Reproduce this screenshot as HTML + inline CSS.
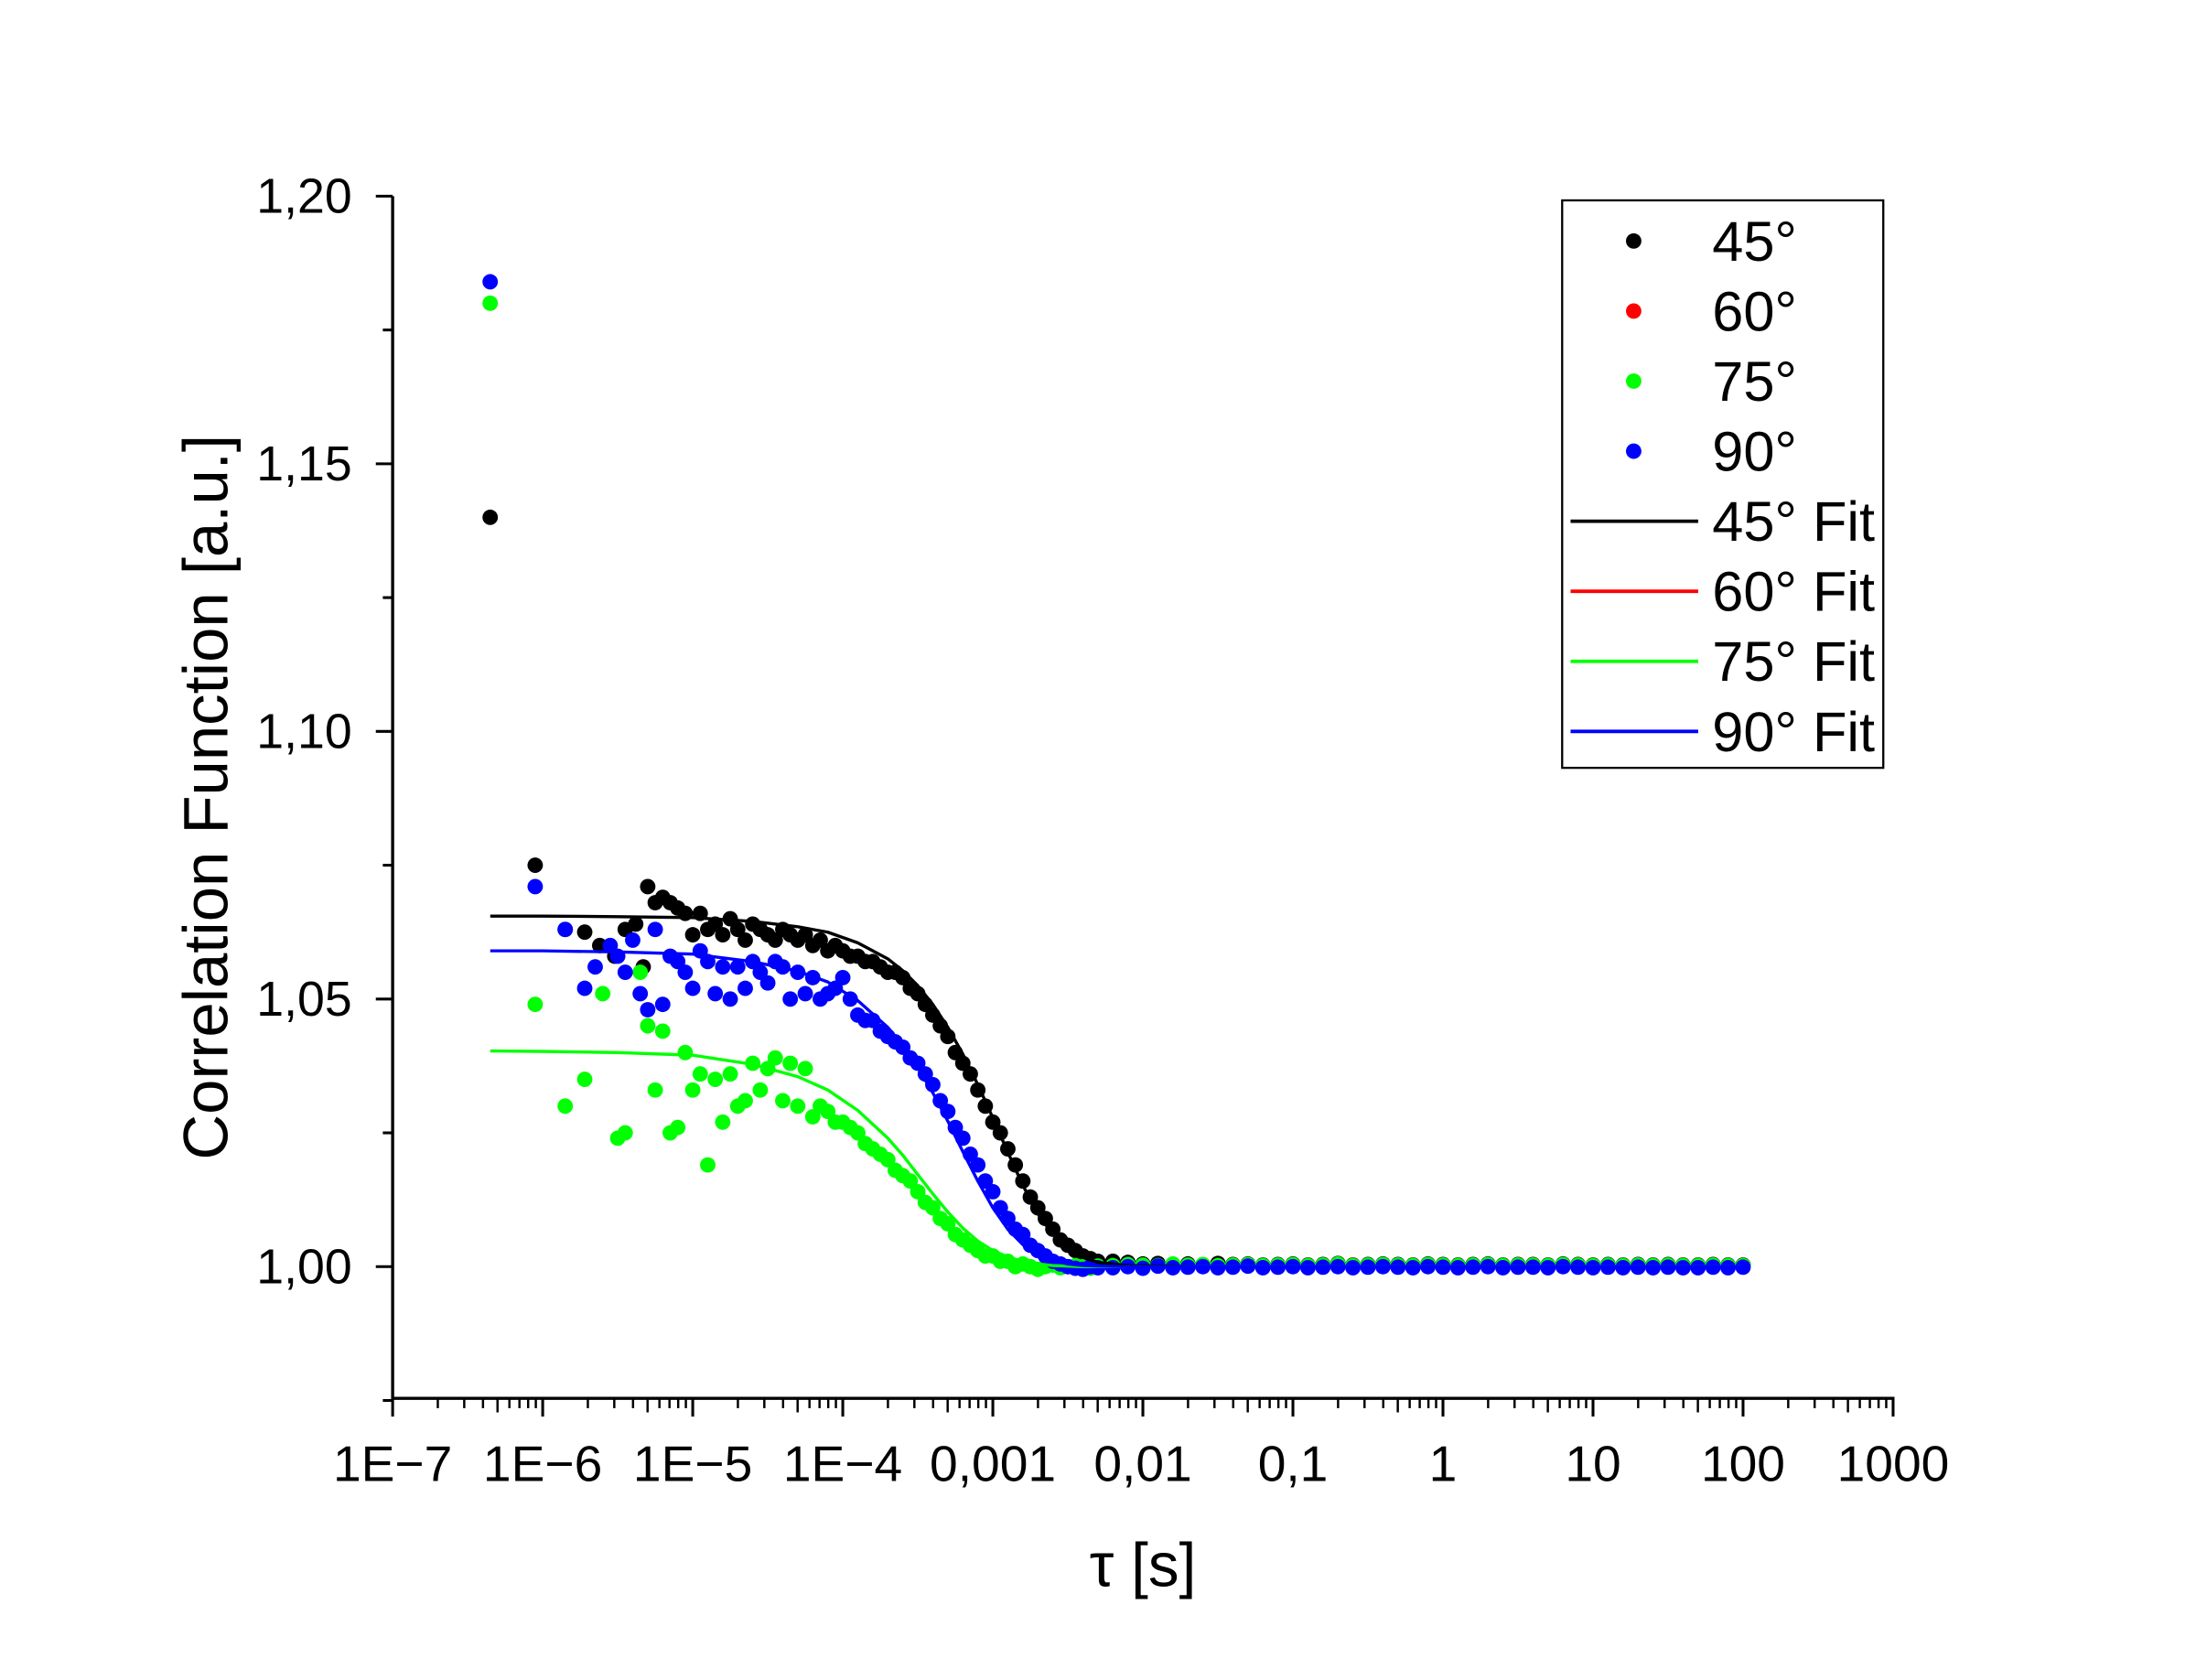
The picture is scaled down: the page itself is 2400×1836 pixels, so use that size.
<!DOCTYPE html>
<html><head><meta charset="utf-8"><style>
html,body{margin:0;padding:0;background:#fff}
svg{display:block}
text{font-family:"Liberation Sans",sans-serif;fill:#000}
</style></head><body>
<svg id="chart" width="2400" height="1836" viewBox="0 0 1566 1199" preserveAspectRatio="none" xmlns="http://www.w3.org/2000/svg">
<g id="axes"></g>
<g id="marks"></g>
<g id="legend">
<rect x="1114" y="143" width="229" height="405" fill="#fff" stroke="#000" stroke-width="1.5"/>
</g>
</svg>
<script>
// ---- data ----
const xTickLabels=["1E\u22127","1E\u22126","1E\u22125","1E\u22124","0,001","0,01","0,1","1","10","100","1000"];
const yTickValues=[1.00,1.05,1.10,1.15,1.20];
const yTickLabels=["1,00","1,05","1,10","1,15","1,20"];
const tailLog=[-2.2,-2.1,-2.0,-1.9,-1.8,-1.7,-1.6,-1.5,-1.4,-1.3,-1.2,-1.1,-1.0,-0.9,-0.8,-0.7,-0.6,-0.5,-0.4,-0.3,-0.2,-0.1,0.0,0.1,0.2,0.3,0.4,0.5,0.6,0.7,0.8,0.9,1.0,1.1,1.2,1.3,1.4,1.5,1.6,1.7,1.8,1.9,2.0];
const logT45=[-6.35,-6.05,-5.85,-5.72,-5.62,-5.52,-5.45,-5.38,-5.33,-5.3,-5.25,-5.2,-5.15,-5.1,-5.05,-5.0,-4.95,-4.9,-4.85,-4.8,-4.75,-4.7,-4.65,-4.6,-4.55,-4.5,-4.45,-4.4,-4.35,-4.3,-4.25,-4.2,-4.15,-4.1,-4.05,-4.0,-3.95,-3.9,-3.85,-3.8,-3.75,-3.7,-3.65,-3.6,-3.55,-3.5,-3.45,-3.4,-3.35,-3.3,-3.25,-3.2,-3.15,-3.1,-3.05,-3.0,-2.95,-2.9,-2.85,-2.8,-2.75,-2.7,-2.65,-2.6,-2.55,-2.5,-2.45,-2.4,-2.35,-2.3];
const val45=[1.140,1.075,1.063,1.0625,1.060,1.058,1.063,1.064,1.056,1.071,1.068,1.069,1.068,1.067,1.066,1.062,1.066,1.063,1.064,1.062,1.065,1.063,1.061,1.064,1.063,1.062,1.061,1.063,1.062,1.061,1.062,1.060,1.061,1.059,1.060,1.059,1.058,1.058,1.057,1.057,1.056,1.055,1.055,1.054,1.052,1.051,1.049,1.047,1.045,1.043,1.040,1.038,1.036,1.033,1.030,1.027,1.025,1.022,1.019,1.016,1.013,1.011,1.009,1.007,1.005,1.004,1.003,1.002,1.0015,1.001];
const tail45=[1.001,1.0008,1.0005,1.0006,1.0004,1.0005,1.0003,1.0006,1.0004,1.0005,1.0003,1.0004,1.0005,1.0003,1.0004,1.0006,1.0003,1.0004,1.0005,1.0004,1.0003,1.0005,1.0004,1.0003,1.0004,1.0005,1.0003,1.0004,1.0004,1.0003,1.0005,1.0004,1.0003,1.0004,1.0003,1.0004,1.0003,1.0004,1.0003,1.0003,1.0004,1.0003,1.0003];
const logT75=[-6.35,-6.05,-5.85,-5.72,-5.6,-5.5,-5.45,-5.35,-5.3,-5.25,-5.2,-5.15,-5.1,-5.05,-5.0,-4.95,-4.9,-4.85,-4.8,-4.75,-4.7,-4.65,-4.6,-4.55,-4.5,-4.45,-4.4,-4.35,-4.3,-4.25,-4.2,-4.15,-4.1,-4.05,-4.0,-3.95,-3.9,-3.85,-3.8,-3.75,-3.7,-3.65,-3.6,-3.55,-3.5,-3.45,-3.4,-3.35,-3.3,-3.25,-3.2,-3.15,-3.1,-3.05,-3.0,-2.95,-2.9,-2.85,-2.8,-2.75,-2.7,-2.65,-2.6,-2.55,-2.5,-2.45,-2.4,-2.35,-2.3];
const val75=[1.180,1.049,1.030,1.035,1.051,1.024,1.025,1.055,1.045,1.033,1.044,1.025,1.026,1.040,1.033,1.036,1.019,1.035,1.027,1.036,1.030,1.031,1.038,1.033,1.037,1.039,1.031,1.038,1.030,1.037,1.028,1.030,1.029,1.027,1.027,1.026,1.025,1.023,1.022,1.021,1.020,1.018,1.017,1.016,1.014,1.012,1.011,1.009,1.008,1.006,1.005,1.004,1.003,1.002,1.002,1.001,1.001,1.000,1.0005,1.000,0.9995,1.000,1.0003,0.9998,1.000,1.0002,1.000,0.9997,1.0001];
const tail75=[1.0002,1.0004,1.0003,1.0002,1.0005,1.0003,1.0004,1.0002,1.0003,1.0004,1.0002,1.0003,1.0004,1.0002,1.0003,1.0005,1.0002,1.0003,1.0004,1.0003,1.0002,1.0004,1.0003,1.0002,1.0003,1.0004,1.0002,1.0003,1.0003,1.0002,1.0004,1.0003,1.0002,1.0003,1.0002,1.0003,1.0002,1.0003,1.0002,1.0002,1.0003,1.0002,1.0002];
const logT90=[-6.35,-6.05,-5.85,-5.72,-5.65,-5.55,-5.5,-5.45,-5.4,-5.35,-5.3,-5.25,-5.2,-5.15,-5.1,-5.05,-5.0,-4.95,-4.9,-4.85,-4.8,-4.75,-4.7,-4.65,-4.6,-4.55,-4.5,-4.45,-4.4,-4.35,-4.3,-4.25,-4.2,-4.15,-4.1,-4.05,-4.0,-3.95,-3.9,-3.85,-3.8,-3.75,-3.7,-3.65,-3.6,-3.55,-3.5,-3.45,-3.4,-3.35,-3.3,-3.25,-3.2,-3.15,-3.1,-3.05,-3.0,-2.95,-2.9,-2.85,-2.8,-2.75,-2.7,-2.65,-2.6,-2.55,-2.5,-2.45,-2.4,-2.35,-2.3];
const val90=[1.184,1.071,1.063,1.052,1.056,1.060,1.058,1.055,1.061,1.051,1.048,1.063,1.049,1.058,1.057,1.055,1.052,1.059,1.057,1.051,1.056,1.050,1.056,1.052,1.057,1.055,1.053,1.057,1.056,1.050,1.055,1.051,1.054,1.050,1.051,1.052,1.054,1.050,1.047,1.046,1.046,1.044,1.043,1.042,1.041,1.039,1.038,1.036,1.034,1.031,1.029,1.026,1.024,1.021,1.019,1.016,1.014,1.011,1.009,1.007,1.006,1.004,1.003,1.002,1.001,1.0005,1.000,0.9997,0.9995,1.000,0.9998];
const tail90=[0.9998,1.0000,0.9997,1.0001,0.9998,0.9999,1.0000,0.9998,0.9999,1.0001,0.9998,0.9999,1.0000,0.9998,0.9999,1.0000,0.9998,0.9999,1.0000,0.9999,0.9998,1.0000,0.9999,0.9998,0.9999,1.0000,0.9998,0.9999,0.9999,0.9998,1.0000,0.9999,0.9998,0.9999,0.9998,0.9999,0.9998,0.9999,0.9998,0.9998,0.9999,0.9998,0.9999];
const fitLog=[-6.35,-6.0,-5.5,-5.0,-4.6,-4.3,-4.1,-3.9,-3.7,-3.6,-3.5,-3.4,-3.3,-3.2,-3.1,-3.0,-2.9,-2.8,-2.7,-2.6,-2.5,-2.4,-2.3,-2.1,-1.6,0,2.0];
const fit45=[1.0655,1.0655,1.0654,1.0652,1.0645,1.0635,1.0625,1.0605,1.0575,1.0553,1.0525,1.049,1.0447,1.0397,1.034,1.0278,1.0214,1.0152,1.0099,1.006,1.0033,1.0017,1.0008,1.0002,1.0,1.0,1.0];
const fit75=[1.0403,1.0402,1.0400,1.0395,1.0378,1.0355,1.0330,1.0292,1.0240,1.0208,1.0172,1.0136,1.0102,1.0072,1.0048,1.0030,1.0018,1.0010,1.0005,1.0002,1.0001,1.0,1.0,1.0,1.0,1.0,1.0];
const fit90=[1.0590,1.0590,1.0588,1.0584,1.0570,1.0552,1.0532,1.0497,1.0447,1.0413,1.0372,1.0325,1.0272,1.0215,1.0160,1.0110,1.0070,1.0041,1.0022,1.0011,1.0005,1.0002,1.0001,1.0,1.0,1.0,1.0];

// ---- axes ----
const X0=280,DEC=107,Y0=904,YS=3820,YB=998;
const xs=l=>X0+(l+7)*DEC;
const ys=v=>Y0-(v-1)*YS;
const NS="http://www.w3.org/2000/svg";
function mk(tag,attrs,parent,txt){const e=document.createElementNS(NS,tag);for(const k in attrs)e.setAttribute(k,attrs[k]);if(txt!==undefined)e.textContent=txt;parent.appendChild(e);return e;}
const axes=document.getElementById('axes'),marks=document.getElementById('marks'),legend=document.getElementById('legend');

let e=mk('line',{x1:X0,y1:140,x2:X0,y2:YB+1,stroke:'#000','stroke-width':2.2},axes);


e=mk('line',{x1:X0-1,y1:YB,x2:xs(3)+1,y2:YB,stroke:'#000','stroke-width':2.2},axes);


for(let i=0;i<yTickValues.length;i++){
  const y=ys(yTickValues[i]);
  e=mk('line',{x1:X0-12,y1:y,x2:X0,y2:y,stroke:'#000','stroke-width':2},axes);
  
  
  e=mk('text',{x:251,y:y+12,'font-size':35,'text-anchor':'end'},axes,yTickLabels[i]);
  
  
}
for(let v=0.975;v<1.2;v+=0.05){
  const y=ys(v);
  e=mk('line',{x1:X0-7,y1:y,x2:X0,y2:y,stroke:'#000','stroke-width':2},axes);
  
  
}
for(let d=0;d<xTickLabels.length;d++){
  const x=xs(d-7);
  e=mk('line',{x1:x,y1:YB,x2:x,y2:YB+13,stroke:'#000','stroke-width':2},axes);
  
  
  e=mk('text',{x:x,y:1057,'font-size':36,'text-anchor':'middle'},axes,xTickLabels[d]);
  
  
  if(d<xTickLabels.length-1){
    for(let m=2;m<=9;m++){
      const xm=xs(d-7+Math.log10(m));
      e=mk('line',{x1:xm,y1:YB,x2:xm,y2:YB+(m===5?10:7),stroke:'#000','stroke-width':1.6},axes);
      
      
    }
  }
}
e=mk('text',{x:815,y:1132,'font-size':44,'text-anchor':'middle'},axes,'\u03c4 [s]');


e=mk('text',{x:0,y:0,'font-size':45,'text-anchor':'middle',transform:'translate(162,569) rotate(-90)'},axes,'Correlation Function [a.u.]');



// ---- marks ----
function dots(lg,vals,tl,tv,color,name){
  const g=mk('g',{fill:color},marks);
  
  
  const all=lg.map((l,i)=>[l,vals[i]]).concat(tl.map((l,i)=>[l,tv[i]]));
  all.forEach(p=>{
    const c=mk('ellipse',{cx:xs(p[0]),cy:ys(p[1]),rx:5.5,ry:5.5},g);
    
    
  });
}
dots(logT45,val45,tailLog,tail45,'#000','series-45deg');
dots(logT75,val75,tailLog,tail75,'#00ff00','series-75deg');
dots(logT90,val90,tailLog,tail90,'#0000ff','series-90deg');
function fit(vals,color,name){
  const d=fitLog.map((l,i)=>(i?'L':'M')+xs(l).toFixed(1)+','+ys(vals[i]).toFixed(1)).join(' ');
  const p=mk('path',{d:d,fill:'none',stroke:color,'stroke-width':2.2,'stroke-linejoin':'round'},marks);
  
  
}
fit(fit45,'#000','fit-45deg');
fit(fit75,'#00ff00','fit-75deg');
fit(fit90,'#0000ff','fit-90deg');

// ---- legend ----
const legLabels=["45\u00b0","60\u00b0","75\u00b0","90\u00b0","45\u00b0 Fit","60\u00b0 Fit","75\u00b0 Fit","90\u00b0 Fit"];
const legColors=["#000","#ff0000","#00ff00","#0000ff","#000","#ff0000","#00ff00","#0000ff"];
for(let i=0;i<legLabels.length;i++){
  const y=172+i*50;
  if(i<4){
    e=mk('circle',{cx:1165,cy:y,r:5.5,fill:legColors[i]},legend);
  }else{
    e=mk('line',{x1:1120,y1:y,x2:1211,y2:y,stroke:legColors[i],'stroke-width':2.5},legend);
  }
  
  
  e=mk('text',{x:1221,y:y+14,'font-size':40},legend,legLabels[i]);
  
  
}
</script>
</body></html>
